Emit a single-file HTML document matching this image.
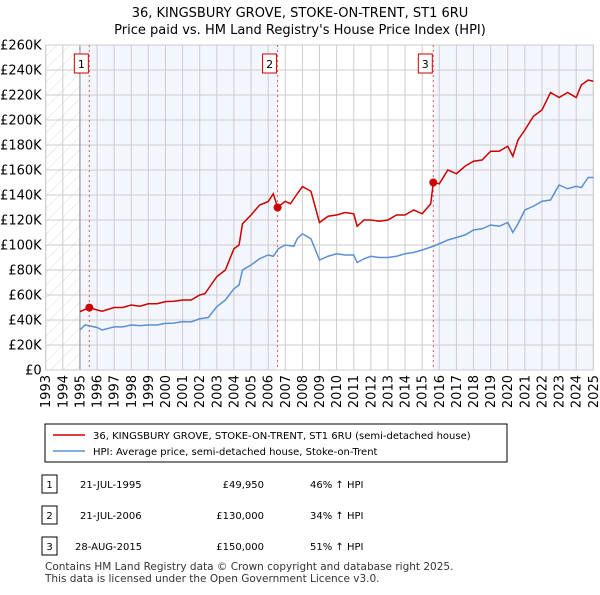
<!DOCTYPE html>
<html><head><meta charset="utf-8"><style>
body{margin:0;background:#fff;font-family:"Liberation Sans","DejaVu Sans",sans-serif;}
svg text{font-family:"DejaVu Sans","Liberation Sans",sans-serif;}
</style></head><body>
<svg id="c" width="600" height="590" xmlns="http://www.w3.org/2000/svg">
<defs><pattern id="h" width="9" height="9" patternUnits="userSpaceOnUse" patternTransform="rotate(45)"><line x1="0" y1="0" x2="0" y2="9" stroke="#d4d4d4" stroke-width="0.8"/></pattern></defs>
<text x="300" y="17" text-anchor="middle" font-size="13">36, KINGSBURY GROVE, STOKE-ON-TRENT, ST1 6RU</text>
<text x="300" y="34" text-anchor="middle" font-size="13">Price paid vs. HM Land Registry's House Price Index (HPI)</text>
<g id="plot"></g>
<g>
<rect x="45" y="424" width="462" height="38" fill="#fff" stroke="#000" stroke-width="1"/>
<line x1="53" y1="435" x2="85" y2="435" stroke="#cc0000" stroke-width="1.5"/>
<text x="93" y="439" font-size="10">36, KINGSBURY GROVE, STOKE-ON-TRENT, ST1 6RU (semi-detached house)</text>
<line x1="53" y1="451" x2="85" y2="451" stroke="#5b8fd4" stroke-width="1.5"/>
<text x="93" y="455" font-size="10">HPI: Average price, semi-detached house, Stoke-on-Trent</text>
</g>
<g font-size="10">
<rect x="42" y="475" width="15" height="18" fill="#fff" stroke="#000"/><text x="49.5" y="488" text-anchor="middle">1</text>
<text x="80" y="488">21-JUL-1995</text><text x="264" y="488" text-anchor="end">£49,950</text><text x="310" y="488">46% ↑ HPI</text>
<rect x="42" y="506" width="15" height="18" fill="#fff" stroke="#000"/><text x="49.5" y="519" text-anchor="middle">2</text>
<text x="80" y="519">21-JUL-2006</text><text x="264" y="519" text-anchor="end">£130,000</text><text x="310" y="519">34% ↑ HPI</text>
<rect x="42" y="537" width="15" height="18" fill="#fff" stroke="#000"/><text x="49.5" y="550" text-anchor="middle">3</text>
<text x="75" y="550">28-AUG-2015</text><text x="264" y="550" text-anchor="end">£150,000</text><text x="310" y="550">51% ↑ HPI</text>
</g>
<text x="45" y="570" font-size="10.5" fill="#333">Contains HM Land Registry data © Crown copyright and database right 2025.</text>
<text x="45" y="582" font-size="10.5" fill="#333">This data is licensed under the Open Government Licence v3.0.</text>
</svg>
<script>
const yearTicks=[1993,1994,1995,1996,1997,1998,1999,2000,2001,2002,2003,2004,2005,2006,2007,2008,2009,2010,2011,2012,2013,2014,2015,2016,2017,2018,2019,2020,2021,2022,2023,2024,2025];
const priceTicks=[0,20,40,60,80,100,120,140,160,180,200,220,240,260];
const priceLabels=["£0","£20K","£40K","£60K","£80K","£100K","£120K","£140K","£160K","£180K","£200K","£220K","£240K","£260K"];
const hpiYears=[1995,1995.3,1996,1996.3,1997,1997.5,1998,1998.5,1999,1999.5,2000,2000.5,2001,2001.5,2002,2002.5,2003,2003.5,2004,2004.3,2004.5,2005,2005.5,2006,2006.3,2006.6,2007,2007.5,2007.7,2008,2008.5,2009,2009.5,2010,2010.5,2011,2011.2,2011.6,2012,2012.5,2013,2013.5,2014,2014.5,2015,2015.65,2016,2016.5,2017,2017.5,2018,2018.5,2019,2019.5,2020,2020.3,2020.6,2021,2021.5,2022,2022.5,2023,2023.5,2024,2024.3,2024.7,2025];
const hpiValues=[32,36,34,32,34.5,34.5,36,35.5,36,36,37.3,37.5,38.7,38.5,41,42,50.7,56,65,68,80,84,89,92,91,97,100,99,105,109,105,88,91,93,92,92,86,89,91,90,90,91,93,94,96,99,101,104,106,108,112,113,116,115,118,110,117,128,131,135,136,148,145,147,146,154,154];
const priceYears=[1995,1995.55,1996,1996.3,1997,1997.5,1998,1998.5,1999,1999.5,2000,2000.5,2001,2001.5,2002,2002.3,2003,2003.5,2004,2004.3,2004.5,2005,2005.5,2006,2006.3,2006.55,2007,2007.3,2007.7,2008,2008.5,2009,2009.5,2010,2010.5,2011,2011.2,2011.6,2012,2012.5,2013,2013.5,2014,2014.5,2015,2015.5,2015.65,2016,2016.5,2017,2017.5,2018,2018.5,2019,2019.5,2020,2020.3,2020.6,2021,2021.5,2022,2022.5,2023,2023.5,2024,2024.3,2024.7,2025];
const priceValues=[46.7,49.95,48,47,50,50,52,51,53,53,54.7,55,56,56,60,61,74.7,80,97,100,117,124,132,134.7,141,130,135,133,141,146.7,143,118,123,124,126,125,115,120,120,119,120,124,124,128,125,133,150,149,160,157,163,167,168,175,175,179,171,184,192,203,208,222,218,222,218,228,232,231];
const saleYears=[1995.55,2006.55,2015.65];
const saleValues=[49.95,130,150];
const saleLabels=["1","2","3"];
const X0=45.7,X1=593.3,Y0=370,Y1=45;
const x=y=>X0+(y-1993)/32*(X1-X0);
const yv=v=>Y0-v/260*(Y0-Y1);
const NS="http://www.w3.org/2000/svg";
const g=document.getElementById('plot');
function mk(t,a){const e=document.createElementNS(NS,t);for(const k in a)e.setAttribute(k,a[k]);g.appendChild(e);return e;}
let e;
e=mk('rect',{x:x(1993),y:Y1,width:x(1995)-x(1993),height:Y0-Y1,fill:'url(#h)'});


e=mk('rect',{x:x(1995),y:Y1,width:x(saleYears[1])-x(1995),height:Y0-Y1,fill:'#f3f6fd'});


e=mk('rect',{x:x(saleYears[2]),y:Y1,width:X1-x(saleYears[2]),height:Y0-Y1,fill:'#f3f6fd'});


priceTicks.forEach((v,i)=>{
 e=mk('line',{x1:X0,x2:X1,y1:yv(v),y2:yv(v),stroke:'#ccc','stroke-width':1});
 
 
 e=mk('text',{x:X0-4,y:yv(v)+4.5,'text-anchor':'end','font-size':'13'});e.textContent=priceLabels[i];
 
 
});
yearTicks.forEach(yr=>{
 e=mk('line',{x1:x(yr),x2:x(yr),y1:Y1,y2:Y0,stroke:'#ccc','stroke-width':1});
 
 
 e=mk('text',{x:0,y:0,'text-anchor':'end','font-size':'13',transform:`translate(${x(yr)+4.5},${Y0+5}) rotate(-90)`});e.textContent=yr;
 
 
});
e=mk('line',{x1:x(1995),x2:x(1995),y1:Y1,y2:Y0,stroke:'#888','stroke-width':1});


e=mk('rect',{x:X0,y:Y1,width:X1-X0,height:Y0-Y1,fill:'none',stroke:'#ccc'});


saleYears.forEach((yr,i)=>{
 e=mk('line',{x1:x(yr),x2:x(yr),y1:Y1,y2:Y0,stroke:'#e55','stroke-width':1,'stroke-dasharray':'2,3'});
 
 
 e=mk('rect',{x:x(yr)-15,y:54,width:14,height:19,fill:'#fff',stroke:'#cc0000'});
 
 
 e=mk('text',{x:x(yr)-8,y:68,'text-anchor':'middle','font-size':'11'});e.textContent=saleLabels[i];
 
 
});
e=mk('polyline',{points:hpiYears.map((yr,i)=>x(yr)+','+yv(hpiValues[i])).join(' '),fill:'none',stroke:'#5b8fd4','stroke-width':1.5});


e=mk('polyline',{points:priceYears.map((yr,i)=>x(yr)+','+yv(priceValues[i])).join(' '),fill:'none',stroke:'#cc0000','stroke-width':1.5});


saleYears.forEach((yr,i)=>{
 e=mk('circle',{cx:x(yr),cy:yv(saleValues[i]),r:4,fill:'#cc0000'});
 
 
});
</script>
</body></html>
